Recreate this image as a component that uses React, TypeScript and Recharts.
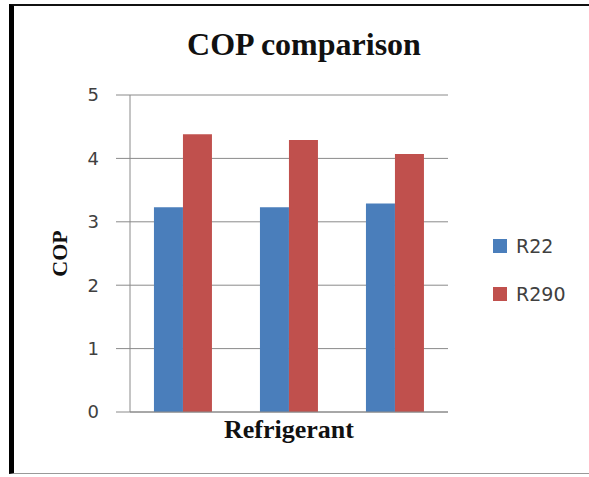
import { Bar, BarChart, CartesianGrid, Legend, XAxis, YAxis } from "recharts";

// COP of each refrigerant at three test points
const categories = ["Test 1", "Test 2", "Test 3"];
const r22 = [3.23, 3.23, 3.29];
const r290 = [4.38, 4.29, 4.07];
const yTicks = [0, 1, 2, 3, 4, 5];

const data = categories.map((name, i) => ({ name, R22: r22[i], R290: r290[i] }));

const serif = "'Liberation Serif', 'Times New Roman', serif";
const sans = "'DejaVu Sans', Verdana, sans-serif";

const renderLegend = (props: any) => (
  <div style={{ fontFamily: sans, fontSize: 19, color: "#404040" }}>
    {(props.payload || []).map((p: any) => (
      <div
        key={p.value}
        style={{ display: "flex", alignItems: "center", height: 20, marginBottom: 28 }}
      >
        <span
          style={{
            display: "inline-block",
            width: 14,
            height: 14,
            background: p.color,
            marginRight: 9,
          }}
        />
        {p.value}
      </div>
    ))}
  </div>
);

export default function App() {
  return (
    <div
      style={{
        position: "fixed",
        left: 0,
        top: 0,
        width: 589,
        height: 477,
        background: "#fff",
        overflow: "hidden",
      }}
    >
      <div
        style={{
          position: "absolute",
          left: 9,
          top: 4,
          right: -4,
          bottom: 3,
          borderLeft: "5px solid #000",
          borderTop: "2px solid #111",
          borderBottom: "1px solid #999",
        }}
      />
      <svg width={589} height={477} style={{ position: "absolute", left: 0, top: 0 }}>
        <text
          x={304}
          y={55}
          textAnchor="middle"
          fontFamily={serif}
          fontWeight="bold"
          fontSize={32}
          fill="#111"
        >
          COP comparison
        </text>
      </svg>
      <div style={{ position: "absolute", left: 0, top: 0 }}>
        <BarChart
          width={589}
          height={477}
          data={data}
          margin={{ top: 95, right: 141, bottom: 0, left: 0 }}
          barCategoryGap="22.6%"
          barGap={0}
        >
          <CartesianGrid vertical={false} stroke="#8a8a8a" />
          <XAxis
            dataKey="name"
            height={65}
            tick={false}
            tickLine={false}
            axisLine={{ stroke: "#8a8a8a" }}
            label={{
              value: "Refrigerant",
              position: "insideTop",
              offset: 8,
              style: { fontFamily: serif, fontWeight: "bold", fontSize: 26, fill: "#111" },
            }}
          />
          <YAxis
            width={130}
            domain={[0, 5]}
            ticks={yTicks}
            interval={0}
            tickSize={14}
            tickMargin={17}
            tickLine={{ stroke: "#8a8a8a" }}
            axisLine={{ stroke: "#8a8a8a" }}
            tick={{ fontFamily: sans, fontSize: 18, fill: "#404040" }}
            label={{
              value: "COP",
              content: (p: any) => {
                const vb = p.viewBox || {};
                const cx = 59;
                const cy = (vb.y || 0) + (vb.height || 0) / 2;
                return (
                  <text
                    x={cx}
                    y={cy}
                    transform={`rotate(-90 ${cx} ${cy})`}
                    textAnchor="middle"
                    dominantBaseline="central"
                    fontFamily={serif}
                    fontWeight="bold"
                    fontSize={22}
                    fill="#111"
                  >
                    COP
                  </text>
                );
              },
            }}
          />
          <Legend
            layout="vertical"
            align="center"
            verticalAlign="middle"
            content={renderLegend}
            wrapperStyle={{ position: "absolute", left: 493, top: 236, width: 90 }}
          />
          <Bar dataKey="R22" fill="#4a7ebb" isAnimationActive={false} />
          <Bar dataKey="R290" fill="#c0504d" isAnimationActive={false} />
        </BarChart>
      </div>
    </div>
  );
}
